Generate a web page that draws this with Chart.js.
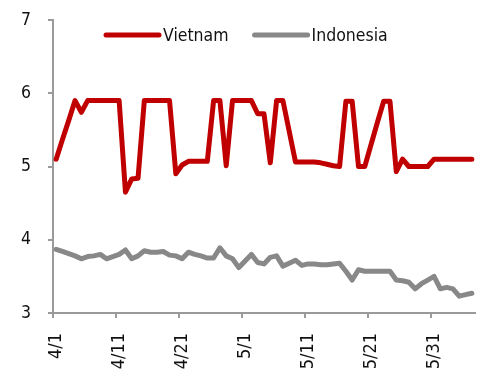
<!DOCTYPE html>
<html>
<head>
<meta charset="utf-8">
<script src="https://cdn.jsdelivr.net/npm/chart.js@4/dist/chart.umd.min.js"></script>
<style>
  html, body { margin: 0; padding: 0; background: #ffffff; }
  #wrap { width: 483px; height: 370px; position: relative; }
</style>
</head>
<body>
<div id="wrap"><canvas id="chart"></canvas></div>
<script>
// Daily dates, 1 April to 6 June
const dates = [
  '4/1','4/2','4/3','4/4','4/5','4/6','4/7','4/8','4/9','4/10',
  '4/11','4/12','4/13','4/14','4/15','4/16','4/17','4/18','4/19','4/20',
  '4/21','4/22','4/23','4/24','4/25','4/26','4/27','4/28','4/29','4/30',
  '5/1','5/2','5/3','5/4','5/5','5/6','5/7','5/8','5/9','5/10',
  '5/11','5/12','5/13','5/14','5/15','5/16','5/17','5/18','5/19','5/20',
  '5/21','5/22','5/23','5/24','5/25','5/26','5/27','5/28','5/29','5/30',
  '5/31','6/1','6/2','6/3','6/4','6/5','6/6'
];

// Dates that carry a label on the x axis
const shownDates = ['4/1','4/11','4/21','5/1','5/11','5/21','5/31'];

// Vietnam series
const vietnam = [
  5.10, 5.37, 5.63, 5.90, 5.74, 5.90, 5.90, 5.90, 5.90, 5.90,
  5.90, 4.65, 4.83, 4.84, 5.90, 5.90, 5.90, 5.90, 5.90, 4.90,
  5.02, 5.07, 5.07, 5.07, 5.07, 5.90, 5.90, 5.01, 5.90, 5.90,
  5.90, 5.90, 5.72, 5.72, 5.05, 5.90, 5.90, 5.48, 5.06, 5.06,
  5.06, 5.06, 5.05, 5.03, 5.01, 5.00, 5.89, 5.89, 5.00, 5.00,
  5.30, 5.60, 5.89, 5.89, 4.93, 5.10, 5.00, 5.00, 5.00, 5.00,
  5.10, 5.10, 5.10, 5.10, 5.10, 5.10, 5.10
];

// Indonesia series
const indonesia = [
  3.87, 3.84, 3.81, 3.78, 3.74, 3.77, 3.78, 3.80, 3.74, 3.77,
  3.80, 3.86, 3.74, 3.78, 3.85, 3.83, 3.83, 3.84, 3.79, 3.78,
  3.74, 3.83, 3.80, 3.78, 3.75, 3.75, 3.89, 3.78, 3.74, 3.62,
  3.71, 3.80, 3.69, 3.67, 3.76, 3.78, 3.64, 3.68, 3.72, 3.65,
  3.67, 3.67, 3.66, 3.66, 3.67, 3.68, 3.57, 3.45, 3.59, 3.57,
  3.57, 3.57, 3.57, 3.57, 3.45, 3.44, 3.42, 3.33, 3.40, 3.45,
  3.50, 3.33, 3.35, 3.33, 3.23, 3.25, 3.27
];

// Y axis range and step
const yTicks = { min: 3, max: 7, step: 1 };

const FONT = '"DejaVu Sans Condensed", "DejaVu Sans", sans-serif';
const AXIS_GREY = '#9a9a9a';
const TEXT = '#111111';

// Keep each axis at a fixed thickness and drop the extra label padding
function fixScale(size) {
  return s => {
    if (s.isHorizontal()) { s.height = size; } else { s.width = size; }
    s.paddingLeft = 0; s.paddingRight = 0;
    s.paddingTop = 0; s.paddingBottom = 0;
  };
}

// Legend drawn inside the plot area, near its top edge
const insetLegend = {
  id: 'insetLegend',
  afterDatasetsDraw(chart, args, opts) {
    const ctx = chart.ctx;
    ctx.save();
    ctx.font = opts.fontSize + 'px ' + FONT;
    ctx.textBaseline = 'middle';
    ctx.textAlign = 'left';
    let x = opts.x;
    const y = opts.y;
    chart.data.datasets.forEach(ds => {
      ctx.strokeStyle = ds.borderColor;
      ctx.lineWidth = ds.borderWidth;
      ctx.lineCap = 'round';
      ctx.beginPath();
      ctx.moveTo(x + 2, y);
      ctx.lineTo(x + opts.lineLength - 2, y);
      ctx.stroke();
      x += opts.lineLength + opts.textGap;
      ctx.fillStyle = TEXT;
      ctx.fillText(ds.label, x, y + 1);
      x += ctx.measureText(ds.label).width + opts.itemGap;
    });
    ctx.restore();
  }
};

new Chart(document.getElementById('chart'), {
  type: 'line',
  data: {
    labels: dates,
    datasets: [
      {
        label: 'Vietnam',
        data: vietnam,
        borderColor: '#c00000',
        backgroundColor: '#c00000',
        borderWidth: 5,
        borderJoinStyle: 'round',
        borderCapStyle: 'round',
        pointRadius: 0,
        tension: 0
      },
      {
        label: 'Indonesia',
        data: indonesia,
        borderColor: '#888888',
        backgroundColor: '#888888',
        borderWidth: 5,
        borderJoinStyle: 'round',
        borderCapStyle: 'round',
        pointRadius: 0,
        tension: 0
      }
    ]
  },
  options: {
    responsive: true,
    maintainAspectRatio: false,
    animation: false,
    layout: { padding: { left: 0, right: 8, top: 20, bottom: 0 } },
    plugins: {
      legend: { display: false },
      tooltip: { enabled: false },
      insetLegend: { x: 104, y: 35, lineLength: 57, textGap: 2, itemGap: 24, fontSize: 17.5 }
    },
    scales: {
      x: {
        type: 'category',
        offset: true,
        afterFit: fixScale(57),
        border: { display: true, color: AXIS_GREY, width: 2 },
        grid: {
          offset: true,
          drawOnChartArea: false,
          drawTicks: true,
          tickLength: 5,
          lineWidth: 2,
          color: c => (c.tick && c.index % 10 === 0) ? AXIS_GREY : 'transparent'
        },
        ticks: {
          autoSkip: false,
          minRotation: 90,
          maxRotation: 90,
          padding: 15,
          color: TEXT,
          font: { family: FONT, size: 18 },
          callback: function (v, i) {
            const lab = dates[i];
            return shownDates.includes(lab) ? lab : '';
          }
        }
      },
      y: {
        min: yTicks.min,
        max: yTicks.max,
        afterFit: fixScale(53),
        border: { display: true, color: AXIS_GREY, width: 2 },
        grid: {
          drawOnChartArea: false,
          drawTicks: true,
          tickLength: 5,
          lineWidth: 2,
          color: AXIS_GREY
        },
        ticks: {
          stepSize: yTicks.step,
          padding: 17,
          color: TEXT,
          font: { family: FONT, size: 17.5 }
        }
      }
    }
  },
  plugins: [insetLegend]
});
</script>
</body>
</html>
